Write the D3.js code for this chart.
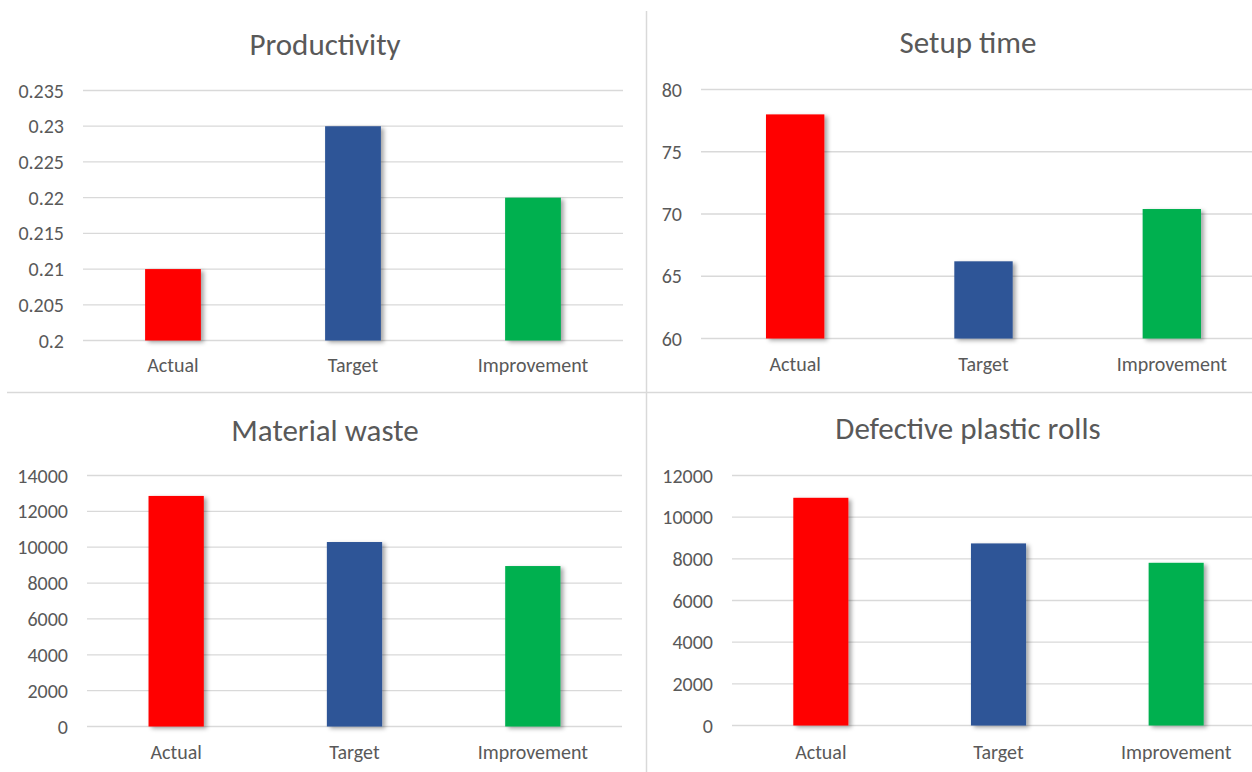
<!DOCTYPE html>
<html lang="en">
<head>
  <meta charset="UTF-8">
  <title>Process KPIs</title>
  <script src="https://d3js.org/d3.v7.min.js"></script>
  <style>
    body { margin: 0; background: #fff; font-family: Carlito, Calibri, Lato, sans-serif; }
    .grid line { stroke: #d9d9d9; stroke-width: 1.3; }
    .tick-label, .cat-label { fill: #595959; font-size: 20px; }
    .title { fill: #595959; font-size: 31px; }
    .divider { stroke: #d9d9d9; stroke-width: 1.5; }
  </style>
</head>
<body>
  <svg width="1252" height="772"></svg>
  <script>
    const categories = ["Actual", "Target", "Improvement"];
    const barColors = ["#ff0000", "#2f5597", "#00b050"];

    const productivity = [0.21, 0.23, 0.22];
    const setupTime = [78.0, 66.2, 70.4];
    const materialWaste = [12860, 10290, 8950];
    const defectiveRolls = [10930, 8740, 7810];

    const productivityTicks = [0.2, 0.205, 0.21, 0.215, 0.22, 0.225, 0.23, 0.235];
    const setupTicks = [60, 65, 70, 75, 80];
    const wasteTicks = [0, 2000, 4000, 6000, 8000, 10000, 12000, 14000];
    const defectTicks = [0, 2000, 4000, 6000, 8000, 10000, 12000];

    const svg = d3.select("svg");

    // soft shadow like the office chart bars
    const defs = svg.append("defs");
    defs.append("filter")
      .attr("id", "shadow")
      .attr("x", "-20%").attr("y", "-20%")
      .attr("width", "150%").attr("height", "140%")
      .append("feDropShadow")
      .attr("dx", 3).attr("dy", 2)
      .attr("stdDeviation", 2.2)
      .attr("flood-color", "#000")
      .attr("flood-opacity", 0.35);

    // quadrant dividers
    svg.append("line").attr("class", "divider")
      .attr("x1", 646.5).attr("x2", 646.5).attr("y1", 11).attr("y2", 772);
    svg.append("line").attr("class", "divider")
      .attr("x1", 7).attr("x2", 1252).attr("y1", 392.5).attr("y2", 392.5);

    const panels = [
      { title: "Productivity", values: productivity, ticks: productivityTicks,
        left: 83, right: 623, top: 90.5, bottom: 340.5, titleX: 325, titleY: 55, catY: 372 },
      { title: "Setup time", values: setupTime, ticks: setupTicks,
        left: 701, right: 1266, top: 89.5, bottom: 338.5, titleX: 968, titleY: 53, catY: 371 },
      { title: "Material waste", values: materialWaste, ticks: wasteTicks,
        left: 87, right: 622, top: 475.5, bottom: 726.5, titleX: 325, titleY: 441, catY: 759 },
      { title: "Defective plastic rolls", values: defectiveRolls, ticks: defectTicks,
        left: 732, right: 1265, top: 475.5, bottom: 725.5, titleX: 968, titleY: 439, catY: 759 }
    ];

    panels.forEach(p => {
      const g = svg.append("g");

      const x = d3.scaleBand()
        .domain(categories)
        .range([p.left, p.right])
        .paddingInner(0.69)
        .paddingOuter(0.345);

      const y = d3.scaleLinear()
        .domain(d3.extent(p.ticks))
        .range([p.bottom, p.top]);

      g.append("g").attr("class", "grid")
        .selectAll("line")
        .data(p.ticks)
        .enter().append("line")
        .attr("x1", p.left).attr("x2", p.right)
        .attr("y1", d => y(d)).attr("y2", d => y(d));

      g.selectAll(".tick-label")
        .data(p.ticks)
        .enter().append("text")
        .attr("class", "tick-label")
        .attr("x", p.left - 19)
        .attr("y", d => y(d))
        .attr("dy", "0.35em")
        .attr("text-anchor", "end")
        .text(d => d);

      g.selectAll(".bar")
        .data(p.values)
        .enter().append("rect")
        .attr("class", "bar")
        .attr("x", (d, i) => x(categories[i]))
        .attr("width", x.bandwidth())
        .attr("y", d => y(d))
        .attr("height", d => y(y.domain()[0]) - y(d))
        .attr("fill", (d, i) => barColors[i])
        .attr("filter", "url(#shadow)");

      g.selectAll(".cat-label")
        .data(categories)
        .enter().append("text")
        .attr("class", "cat-label")
        .attr("x", d => x(d) + x.bandwidth() / 2)
        .attr("y", p.catY)
        .attr("text-anchor", "middle")
        .text(d => d);

      g.append("text")
        .attr("class", "title")
        .attr("x", p.titleX)
        .attr("y", p.titleY)
        .attr("text-anchor", "middle")
        .text(p.title);
    });
  </script>
</body>
</html>
